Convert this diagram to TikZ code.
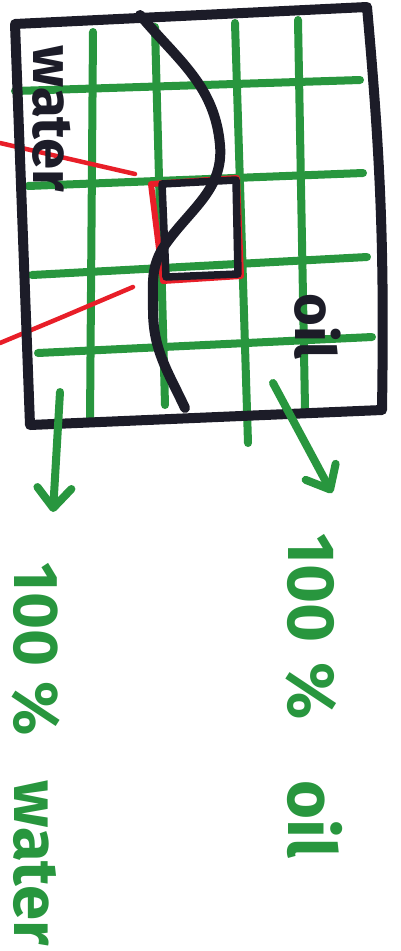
\documentclass[tikz,border=0pt]{standalone}
\usepackage{fontspec}
\setmainfont{Fira Sans}
\usetikzlibrary{arrows.meta}
\definecolor{inkblack}{RGB}{28,28,40}
\definecolor{markergreen}{RGB}{40,150,62}
\definecolor{markerred}{RGB}{232,30,40}
\begin{document}
\begin{tikzpicture}[x=0.01cm, y=-0.01cm, line cap=round, line join=round]
\tikzstyle{ink}=[line width=1mm, draw=inkblack]
\tikzstyle{grid}=[line width=0.8mm, draw=markergreen]
\tikzstyle{redpen}=[line width=0.45mm, draw=markerred]
\tikzstyle{arr}=[grid, -{Straight Barb[round, length=2mm, width=3.4mm]}]
\tikzstyle{note}=[rotate=-90, anchor=west, inner sep=0pt, text=markergreen, font=\fontsize{19}{22}\selectfont\bfseries]
\tikzstyle{tag}=[rotate=-90, anchor=west, inner sep=0pt, text=inkblack, font=\fontsize{16}{19}\selectfont\bfseries]
\useasboundingbox (0,0) rectangle (401,951);
% grid lines
\draw[grid] (93,32) -- (90,422);
\draw[grid] (155,27) -- (165,405);
\draw[grid] (235,23) -- (248,443);
\draw[grid] (298,20) -- (305,408);
\draw[grid] (15,91) -- (360,80);
\draw[grid] (28,186) -- (363,173);
\draw[grid] (32,275) -- (367,257);
\draw[grid] (38,353) -- (372,337);
% red strokes
\draw[redpen] (0,143) -- (135,174);
\draw[redpen] (0,343) -- (60,318) -- (133,287);
\draw[redpen, line width=0.6mm] (151,184) -- (237,178) -- (241,276) -- (163,281) -- cycle;
% tank and interface
\draw[ink] (15,24) -- (367,7) to[bend left=3] (382,410) -- (30,425) -- cycle;
\draw[ink] (140,15) to[out=-50,in=95] (220,145) to[out=-85,in=55] (165,245)
  to[out=-125,in=90] (153,310) to[out=-90,in=115] (185,408);
\draw[ink, line width=0.75mm] (162,184) -- (236,180) -- (238,274) -- (166,277) -- cycle;
% labels
\node[tag] (water) at (52,45) {water};
\node[tag] (oil) at (318,293) {oil};
\coordinate (wfrom) at (60,392);
\coordinate (wto) at (53,512);
\coordinate (ofrom) at (273,383);
\coordinate (oto) at (332,493);
\draw[arr] (wfrom) -- (wto);
\draw[arr] (ofrom) -- (oto);
\node[note] (alloil) at (314,533) {100\hspace{2mm}\%\hspace{6mm}oil};
\node[note, font=\fontsize{18}{21}\selectfont\bfseries] (allwater) at (36,562) {100\hspace{1.5mm}\%\hspace{4.5mm}water};
\end{tikzpicture}
\end{document}
